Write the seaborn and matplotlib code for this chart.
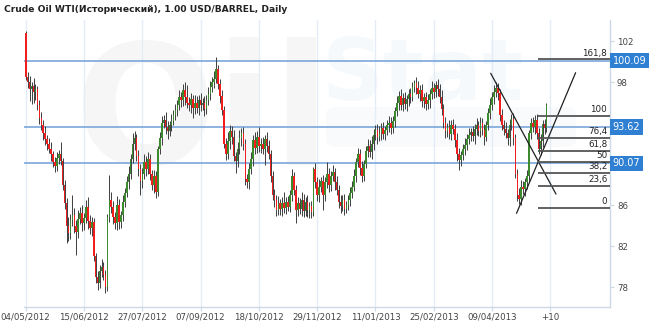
import numpy as np
import pandas as pd
import matplotlib
matplotlib.use("Agg")
import matplotlib.pyplot as plt
import seaborn as sns
from matplotlib.transforms import blended_transform_factory
from matplotlib.patches import FancyBboxPatch

# ---------------- data ----------------
title = "Crude Oil WTI(Исторический), 1.00 USD/BARREL, Daily"

first_open = 102.8
closes = [
    98.5,
    98.0, 97.3, 97.6, 97.0, 97.3, 95.8,
    94.5, 93.8, 93.0,
    92.4, 92.0, 91.5,
    91.0, 90.2, 89.8,
    90.6, 91.0, 90.3,
    88.0, 86.2, 84.0,
    83.3, 84.5, 85.0, 84.0, 83.4, 84.6,
    85.2, 84.2, 84.7, 85.8, 84.4, 83.8, 84.3,
    81.0, 79.0,
    78.4, 79.6, 80.0, 79.2,
    78.0, 84.8,
    86.5, 85.8, 84.8,
    84.2, 86.0, 84.3, 85.0,
    86.3, 87.2, 88.2, 89.0,
    90.5, 92.0,
    92.5, 90.8,
    89.5, 88.3,
    89.0, 90.2, 89.5, 90.5,
    89.0, 88.0,
    88.8, 87.3,
    91.5,
    92.5, 94.0,
    94.3, 93.6, 93.2, 93.8, 94.2,
    94.8, 95.3, 95.8,
    96.5, 96.2,
    97.2, 96.5, 96.0,
    95.8, 96.3, 95.5, 96.0,
    95.5, 96.2, 95.8, 96.0, 95.4,
    96.2, 96.8, 97.5, 98.0, 98.3,
    99.3, 97.8, 96.6, 95.3, 92.0, 91.0,
    92.2, 93.2, 92.6,
    90.8, 90.3,
    91.5, 92.5, 93.0, 92.0,
    88.5, 88.2,
    89.5, 90.5,
    92.3, 91.6, 92.6, 91.8,
    92.0, 91.5, 92.4, 91.8,
    91.0, 88.8, 87.0,
    86.5, 85.5, 86.2, 85.6,
    86.2, 85.7, 86.3, 85.8,
    87.0, 88.8, 87.5,
    85.5,
    86.2, 85.6, 86.5, 85.4, 86.3, 85.5, 85.9, 85.3,
    89.5,
    88.2, 87.0,
    87.8, 88.3, 87.0,
    88.2, 89.0, 88.0, 88.8,
    89.2, 88.2, 87.5,
    86.3, 85.9,
    86.5, 85.6, 86.0,
    86.5, 87.2, 87.8,
    88.8, 90.2, 91.0,
    89.6, 88.8,
    90.0, 91.3,
    91.8, 91.2, 92.0,
    92.8, 93.3, 92.6,
    93.0, 93.5, 92.9, 93.3,
    93.8, 94.0, 93.5, 94.2,
    95.2, 96.0,
    96.6, 95.8, 96.4, 95.9,
    96.3, 96.8, 96.5,
    97.5, 97.9, 97.4,
    96.8, 97.2, 96.1,
    96.5, 95.9, 96.2,
    96.8, 97.4, 97.0, 97.7, 97.3,
    96.5, 95.4,
    94.0, 93.2,
    93.6, 92.9, 93.8, 93.4,
    92.3,
    91.0, 90.4, 90.9,
    91.5, 91.9, 92.4, 92.8,
    93.1, 92.7, 93.4,
    93.8, 93.2, 94.0,
    93.3, 92.6,
    93.8, 95.0,
    95.8, 96.5, 97.0,
    97.4, 96.9,
    94.8,
    93.8, 93.4,
    93.0, 92.5,
    93.8, 94.4,
    92.5, 89.0,
    87.0, 86.6,
    87.8, 87.6, 88.2,
    88.8, 93.0,
    94.0, 93.6, 94.3,
    93.0, 91.5,
    92.2, 93.9, 93.5,
    95.8,
]

upper_wick_tenths = [
    2, 5, 6, 4, 8, 5, 3, 4, 6, 5,
    7, 4, 5, 6, 3, 5, 6, 4, 11, 3,
    4, 5, 8, 6, 20, 7, 5, 9, 6, 8,
    5, 7, 10, 6, 5, 4, 3, 6, 5, 7,
    4, 5, 3, 24, 8, 6, 5, 9, 6, 4,
    7, 5, 6, 8, 5, 10, 7, 4, 6, 5,
    6, 8, 6, 7, 5, 4, 6, 5, 3, 6,
    7, 5, 8, 6, 4, 7, 5, 6, 4, 7,
    5, 6, 8, 12, 5, 6, 4, 7, 6, 5,
    7, 4, 6, 5, 7, 6, 5, 8, 11, 4,
    5, 6, 4, 5, 9, 6, 5, 7, 4, 6,
    8, 5, 6, 4, 5, 6, 7, 5, 8, 6,
    10, 5, 6, 4, 7, 5, 4, 5, 6, 5,
    7, 4, 6, 11, 5, 6, 5, 7, 4, 5,
    6, 5, 8, 6, 5, 7, 4, 5, 2, 6,
    5, 7, 4, 6, 5, 12, 6, 5, 7, 4,
    6, 5, 7, 5, 6, 4, 5, 6, 5, 7,
    4, 6, 5, 7, 4, 5, 6, 5, 7, 6,
    5, 6, 7, 5, 6, 4, 5, 7, 6, 5,
    4, 6, 5, 7, 5, 6, 4, 5, 6, 5,
    3, 6, 7, 5, 6, 4, 5, 6, 5, 7,
    5, 4, 6, 5, 7, 5, 6, 4, 7, 5,
    6, 5, 7, 6, 4, 5, 6, 5, 7, 4,
    6, 5, 7, 4, 6, 5, 6, 4, 5, 6,
    5, 7, 6, 5, 4, 6, 5, 7, 4, 6,
    5, 6, 4, 5, 7, 6, 5, 4, 6, 3,
    5, 6, 5, 6, 5, 7, 4, 5, 2,
]

lower_wick_tenths = [
    3, 6, 12, 14, 10, 8, 5, 6, 5, 7,
    5, 6, 4, 7, 5, 6, 5, 6, 4, 5,
    6, 17, 8, 6, 5, 7, 23, 6, 5, 7,
    6, 5, 7, 6, 8, 5, 6, 7, 5, 6,
    5, 6, 4, 5, 6, 7, 5, 6, 6, 5,
    6, 5, 4, 6, 5, 4, 6, 5, 7, 13,
    6, 5, 7, 5, 6, 5, 8, 6, 4, 5,
    6, 5, 7, 8, 5, 6, 4, 5, 6, 5,
    6, 5, 7, 5, 6, 8, 10, 6, 5, 7,
    6, 5, 7, 5, 4, 6, 5, 6, 4, 5,
    6, 5, 4, 6, 5, 7, 6, 5, 12, 6,
    5, 7, 6, 5, 5, 6, 5, 7, 6, 5,
    6, 7, 5, 16, 6, 5, 6, 5, 7, 6,
    5, 6, 7, 5, 6, 4, 5, 6, 5, 13,
    6, 5, 7, 6, 5, 7, 8, 6, 4, 5,
    6, 7, 5, 15, 6, 5, 7, 6, 5, 7,
    5, 6, 7, 5, 6, 4, 5, 6, 5, 4,
    6, 5, 7, 6, 5, 4, 6, 5, 7, 6,
    5, 6, 4, 7, 5, 6, 5, 7, 6, 5,
    6, 5, 7, 5, 6, 5, 7, 6, 5, 4,
    5, 6, 4, 7, 5, 6, 6, 5, 7, 5,
    6, 5, 7, 5, 6, 5, 7, 6, 5, 6,
    5, 6, 7, 10, 6, 5, 6, 5, 4, 6,
    5, 7, 6, 5, 6, 5, 7, 4, 5, 6,
    5, 6, 5, 7, 6, 5, 6, 5, 6, 7,
    5, 6, 4, 6, 5, 6, 5, 7, 6, 5,
    6, 5, 7, 6, 5, 6, 5, 6, 4,
]

date_labels = ["04/05/2012", "15/06/2012", "27/07/2012", "07/09/2012", "18/10/2012",
               "29/11/2012", "11/01/2013", "25/02/2013", "09/04/2013", "+10"]
bars_per_label = 30
y_ticks = [78, 82, 86, 90, 94, 98, 102]

level_prices = [100.09, 93.62, 90.07]

fib_low = 85.74
fib_high = 94.68
fib_levels = [0, 23.6, 38.2, 50, 61.8, 76.4, 100, 161.8]
fib_start_bar = 263.5

trend_a_x = [239.3, 272.9]
trend_a_y = [98.85, 87.07]
trend_b_x = [252.6, 283.0]
trend_b_y = [85.19, 98.91]

# ---------------- build table ----------------
n = len(closes)
opens = [first_open] + closes[:-1]
highs = [max(o, c) + u / 10 for o, c, u in zip(opens, closes, upper_wick_tenths[:n])]
lows = [min(o, c) - l / 10 for o, c, l in zip(opens, closes, lower_wick_tenths[:n])]
df = pd.DataFrame({"bar": np.arange(n), "open": opens, "high": highs,
                   "low": lows, "close": closes})
df["up"] = df["close"] >= df["open"]

# ---------------- figure ----------------
sns.set_theme(style="white")
plt.rcParams["font.family"] = ["DejaVu Sans"]

W, H = 650, 322
fig = plt.figure(figsize=(W / 100, H / 100), dpi=100)
fig.patch.set_facecolor("white")
ax = fig.add_axes([23.8 / W, 15 / H, 586.2 / W, 287 / H])
ax.set_facecolor("none")
ax.set_xlim(-1.0, 300.7)
ax.set_ylim(76.05, 104.05)

# faint watermark
ax.text(75 / W, 1 - 165 / H, "Oil", transform=fig.transFigure, fontsize=120,
        fontweight="bold", color="#000000", alpha=0.035, ha="left", va="baseline", zorder=0)
ax.text(322 / W, 1 - 100 / H, "Stat", transform=fig.transFigure, fontsize=62,
        fontweight="bold", color="#3d85c6", alpha=0.045, ha="left", va="baseline", zorder=0)
band = FancyBboxPatch((326 / W, 1 - 147 / H), 250 / W, 40 / H,
                      boxstyle="round,pad=0.0,rounding_size=0.02",
                      transform=fig.transFigure, fc="#3d85c6", ec="none", alpha=0.035, zorder=0)
ax.add_patch(band)

# vertical grid
tick_pos = [i * bars_per_label for i in range(len(date_labels))]
for xp in tick_pos:
    ax.axvline(xp, color="#e4edf7", lw=1.0, zorder=0.5)

# horizontal level lines
for lp in level_prices:
    ax.axhline(lp, color="#6f9fd8", lw=1.1, zorder=1)

# candles: wicks then bodies
ax.vlines(df["bar"], df["low"], df["high"], color="#3f3f3f", lw=0.7, zorder=2)
body = df["close"] - df["open"]
body_h = body.where(body.abs() > 0.1, 0.1)
colors = np.where(df["up"], "#3c8a2e", "#f01e1e")
ax.bar(df["bar"], body_h, bottom=df["open"], width=0.8, color=colors,
       linewidth=0, zorder=3)

# trend lines
sns.lineplot(x=trend_a_x, y=trend_a_y, ax=ax, color="#202020", lw=0.9, zorder=4)
sns.lineplot(x=trend_b_x, y=trend_b_y, ax=ax, color="#202020", lw=0.9, zorder=4)

# fibonacci levels
for lv in fib_levels:
    price = fib_low + (fib_high - fib_low) * lv / 100
    ax.hlines(price, fib_start_bar, 300.7, color="#555555", lw=1.3, zorder=4)
    lab = f"{lv:g}".replace(".", ",")
    ax.text(299.3, price + 0.18, lab, ha="right", va="bottom", fontsize=6.3,
            color="#222222", zorder=5)

# axes styling
for s in ["left", "top"]:
    ax.spines[s].set_visible(False)
for s in ["bottom", "right"]:
    ax.spines[s].set_color("#cdd9e6")
    ax.spines[s].set_linewidth(1.0)

ax.set_xticks(tick_pos)
ax.set_xticklabels(date_labels)
ax.tick_params(axis="x", bottom=True, length=3, width=0.8, color="#cdd9e6",
               pad=1.0, labelsize=6.2, labelcolor="#444444")
ax.yaxis.tick_right()
ax.set_yticks(y_ticks)
# labels under the price boxes are hidden in the reference
hidden = {round(v) for v in level_prices}
ax.set_yticklabels(["" if t in hidden else str(t) for t in y_ticks])
ax.tick_params(axis="y", right=True, left=False, length=3, width=0.8, color="#cdd9e6",
               pad=2, labelsize=6.2, labelcolor="#444444")
ax.set_xlabel("")
ax.set_ylabel("")
ax.grid(False)

# price boxes on the right axis
tr = blended_transform_factory(ax.transAxes, ax.transData)
for lp in level_prices:
    ax.text(1.0045, lp, f"{lp:.2f}", transform=tr, ha="left", va="center",
            fontsize=7, color="white", clip_on=False, zorder=10,
            bbox=dict(boxstyle="square,pad=0.28", fc="#2f7fd2", ec="none"))

# title
fig.text(4 / W, 1 - 10 / H, title, fontsize=6.6, fontweight="bold",
         color="#222222", ha="left", va="center")

fig.savefig("out.png", dpi=100)
